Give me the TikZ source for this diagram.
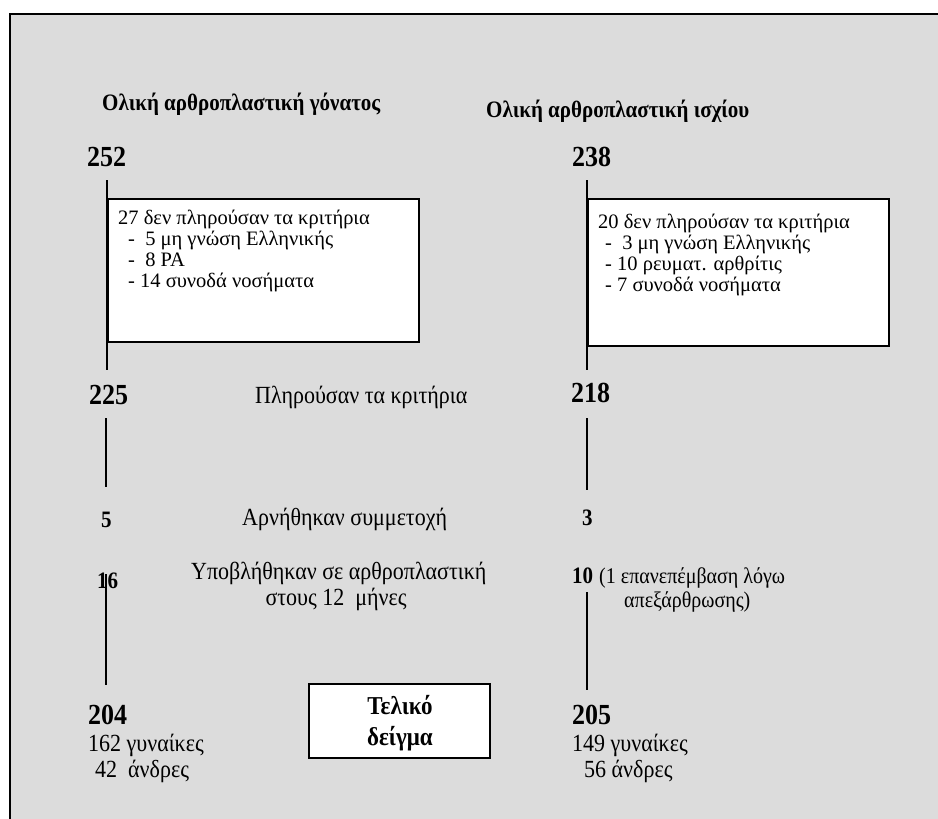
\documentclass[tikz,border=0pt]{standalone}
\usepackage{fontspec}
\setmainfont{Liberation Serif}
\definecolor{bgg}{HTML}{DCDCDC}
\newcommand{\tallt}[1]{\scalebox{1}[1.12]{#1}}
\begin{document}
\begin{tikzpicture}[x=1pt,y=-1pt,
  txt/.style={font=\fontsize{22}{22}\selectfont, inner sep=0pt, anchor=base west},
  stxt/.style={font=\fontsize{20}{20}\selectfont, inner sep=0pt, anchor=base west},
  btxt/.style={font=\fontsize{20.5}{20.5}\selectfont, inner sep=0pt, anchor=base west},
  hd/.style={font=\fontsize{21}{21}\bfseries\selectfont, inner sep=0pt, anchor=base west},
  num/.style={font=\fontsize{26}{26}\bfseries\selectfont, inner sep=0pt, anchor=base west},
  snum/.style={font=\fontsize{21}{21}\bfseries\selectfont, inner sep=0pt, anchor=base west},
  ln/.style={line width=1.4pt},
  bx/.style={draw, line width=2pt, fill=white}]
\useasboundingbox (0,0) rectangle (938,819);
\fill[bgg] (10,14) rectangle (938,819);
\draw[line width=2.2pt] (10,819) -- (10,14) -- (938,14);

% headings
\node[hd] (hL) at (102,110) {\tallt{Ολική αρθροπλαστική γόνατος}};
\node[hd] (hR) at (486,117) {\tallt{Ολική αρθροπλαστική ισχίου}};

% left column
\node[num] (n252) at (87,166) {\tallt{252}};
\coordinate (l1a) at (107,180);
\coordinate (l1b) at (107,370);
\draw[ln] (l1a) -- (l1b);
\node[bx, minimum width=311pt, minimum height=143pt, anchor=north west] (boxL) at (107,198) {};
\node[btxt] (bL1) at (118,224) {27 δεν πληρούσαν τα κριτήρια};
\node[btxt] (bL2) at (128,245) {-\ \ 5 μη γνώση Ελληνικής};
\node[btxt] (bL3) at (128,266) {-\ \ 8 PA};
\node[btxt] (bL4) at (128,287) {- 14 συνοδά νοσήματα};

\node[num] (n225) at (89,404) {\tallt{225}};
\coordinate (l2a) at (106,418);
\coordinate (l2b) at (106,487);
\draw[ln] (l2a) -- (l2b);
\node[snum] (n5) at (101,527) {\tallt{5}};
\node[snum] (n16) at (97,588) {\tallt{16}};
\coordinate (l3a) at (106,574);
\coordinate (l3b) at (106,685);
\draw[ln] (l3a) -- (l3b);
\node[num] (n204) at (88,724) {\tallt{204}};
\node[txt] (w1) at (88,751) {\tallt{162 γυναίκες}};
\node[txt] (m1) at (95,777) {\tallt{42\ \ άνδρες}};

% middle
\node[txt] (crit) at (255,403) {\tallt{Πληρούσαν τα κριτήρια}};
\node[txt] (arn) at (242,525) {\tallt{Αρνήθηκαν συμμετοχή}};
\node[txt] (yp1) at (191,579) {\tallt{Υποβλήθηκαν σε αρθροπλαστική}};
\node[txt, anchor=base] (yp2) at (336,605) {\tallt{στους 12\ \ μήνες}};
\node[draw, line width=1.5pt, fill=white, minimum width=181pt, minimum height=74pt, anchor=north west] (fin) at (308,683) {};
\node[hd, font=\fontsize{23}{23}\bfseries\selectfont, anchor=base] (fin1) at (400,714) {\tallt{Τελικό}};
\node[hd, font=\fontsize{23}{23}\bfseries\selectfont, anchor=base] (fin2) at (400,745) {\tallt{δείγμα}};

% right column
\node[num] (n238) at (572,166) {\tallt{238}};
\coordinate (r1a) at (587,180);
\coordinate (r1b) at (587,370);
\draw[ln] (r1a) -- (r1b);
\node[bx, minimum width=301pt, minimum height=147pt, anchor=north west] (boxR) at (587,198) {};
\node[btxt] (bR1) at (598,228) {20 δεν πληρούσαν τα κριτήρια};
\node[btxt] (bR2) at (605,249) {-\ \ 3 μη γνώση Ελληνικής};
\node[btxt] (bR3) at (605,270) {- 10 ρευματ. αρθρίτις};
\node[btxt] (bR4) at (605,291) {- 7 συνοδά νοσήματα};

\node[num] (n218) at (571,402) {\tallt{218}};
\coordinate (r2a) at (587,418);
\coordinate (r2b) at (587,490);
\draw[ln] (r2a) -- (r2b);
\node[snum] (n3) at (582,525) {\tallt{3}};
\node[snum] (n10) at (572,583) {\tallt{10}};
\node[stxt] (rev1) at (599,583) {\tallt{(1 επανεπέμβαση λόγω}};
\node[stxt] (rev2) at (624,607) {\tallt{απεξάρθρωσης)}};
\coordinate (r3a) at (587,592);
\coordinate (r3b) at (587,690);
\draw[ln] (r3a) -- (r3b);
\node[num] (n205) at (572,724) {\tallt{205}};
\node[txt] (w2) at (572,751) {\tallt{149 γυναίκες}};
\node[txt] (m2) at (584,777) {\tallt{56 άνδρες}};
\end{tikzpicture}
\end{document}
